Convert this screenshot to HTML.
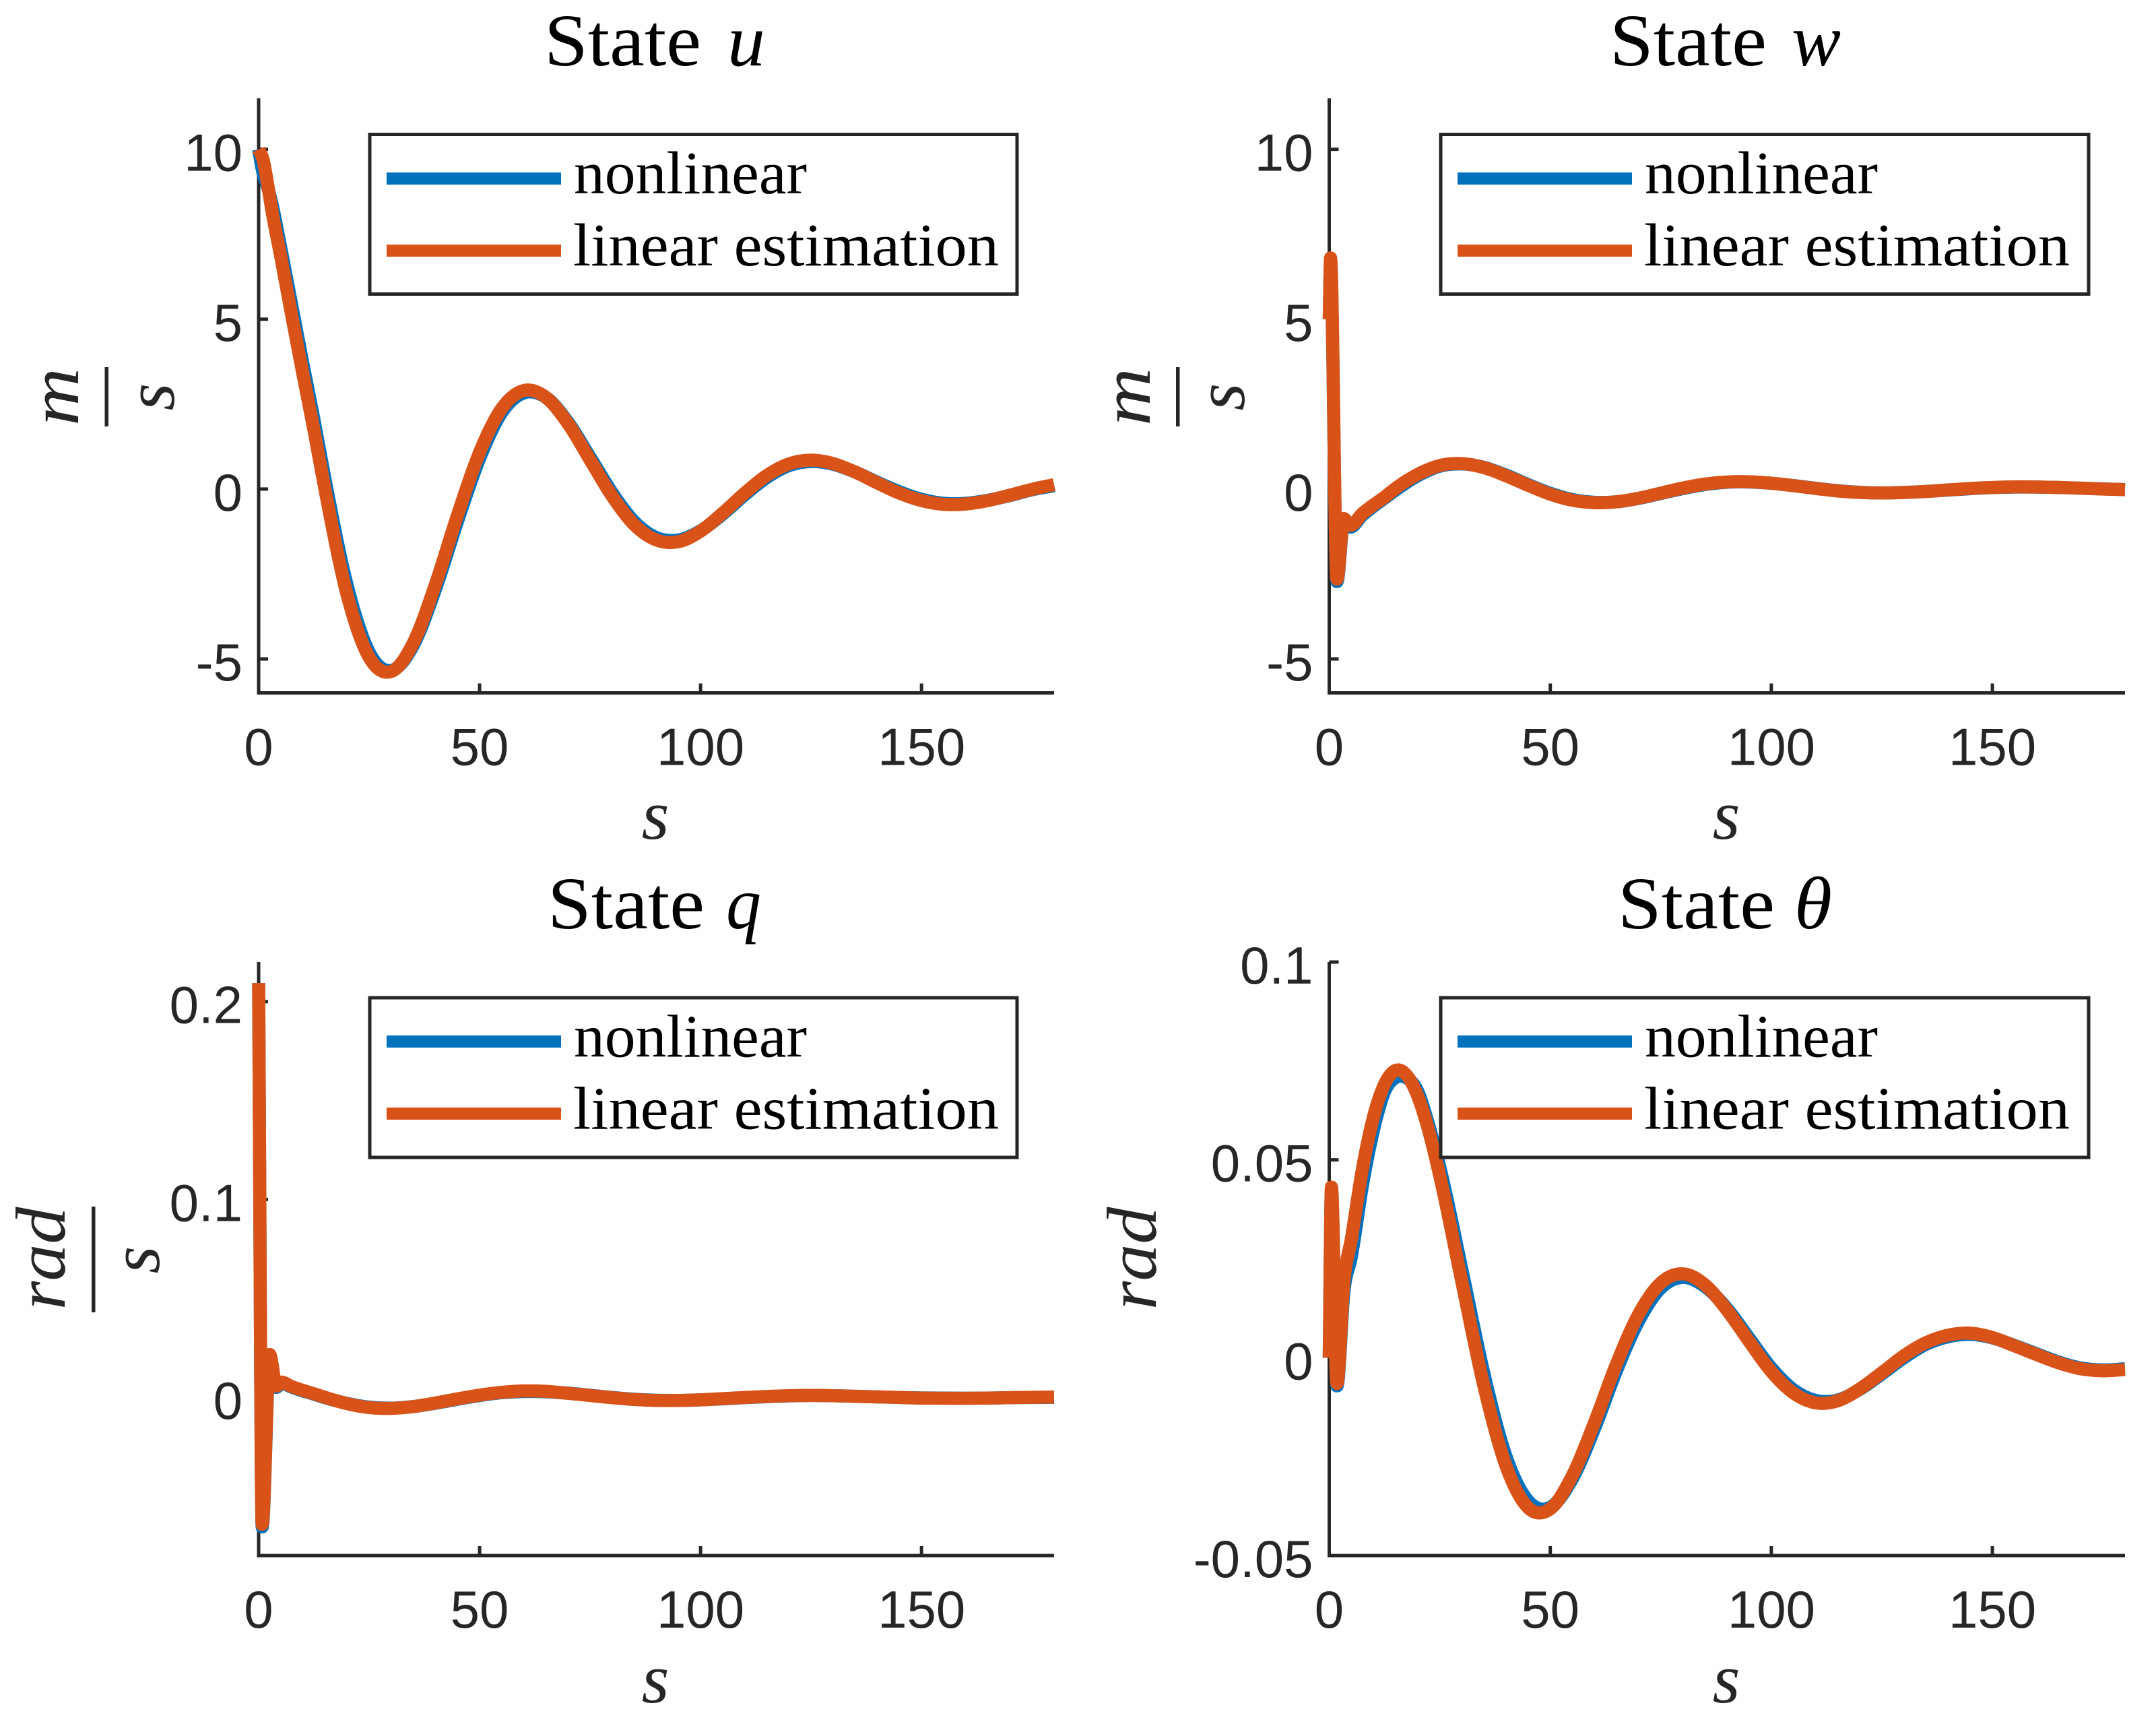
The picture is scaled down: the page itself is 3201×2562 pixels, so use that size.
<!DOCTYPE html>
<html lang="en">
<head>
<meta charset="utf-8">
<title>State responses: nonlinear vs linear estimation</title>
<style>
html,body{margin:0;padding:0;background:#fff;}
svg{display:block;}
.title{font-family:"Liberation Serif",serif;font-size:110px;fill:#000;}
.title-var{font-family:"Liberation Serif",serif;font-style:italic;font-size:110px;fill:#000;}
.legend-text{font-family:"Liberation Serif",serif;font-size:90px;fill:#000;}
.math{font-family:"Liberation Serif",serif;font-style:italic;font-size:105px;fill:#262626;}
.tick-label{font-family:"Liberation Sans",sans-serif;font-size:78px;fill:#262626;}
</style>
</head>
<body>
<svg id="figure" xmlns="http://www.w3.org/2000/svg" width="3201" height="2562" viewBox="0 0 3201 2562">
  <rect x="0" y="0" width="3201" height="2562" fill="#ffffff"/>

  <!-- Panel u -->
  <g>
    <g id="marks-u"></g>
    <g>
      <text class="title" x="808" y="97" textLength="233" lengthAdjust="spacingAndGlyphs">State</text>
      <text class="title-var" x="1080" y="97" textLength="56" lengthAdjust="spacingAndGlyphs">u</text>
    </g>
    <g>
      <text class="math" transform="translate(116,589) rotate(-90)" text-anchor="middle" textLength="86" lengthAdjust="spacingAndGlyphs">m</text>
      <rect x="155.5" y="545" width="5.5" height="88" fill="#262626"/>
      <text class="math" transform="translate(258,589) rotate(-90)" text-anchor="middle">s</text>
    </g>
    <text class="math" x="973" y="1245" text-anchor="middle">s</text>
    <g>
      <rect x="549" y="199.5" width="961" height="237" fill="#fff" stroke="#262626" stroke-width="5"/>
      <rect x="574" y="256" width="259" height="18" fill="#0072BD"/>
      <text class="legend-text" x="852" y="287" textLength="346" lengthAdjust="spacingAndGlyphs">nonlinear</text>
      <rect x="574" y="363" width="259" height="18" fill="#D95319"/>
      <text class="legend-text" x="851" y="394" textLength="632" lengthAdjust="spacingAndGlyphs">linear estimation</text>
    </g>
  </g>

  <!-- Panel w -->
  <g>
    <g id="marks-w"></g>
    <g>
      <text class="title" x="2390" y="97" textLength="233" lengthAdjust="spacingAndGlyphs">State</text>
      <text class="title-var" x="2660" y="97" textLength="73" lengthAdjust="spacingAndGlyphs">w</text>
    </g>
    <g>
      <text class="math" transform="translate(1707,589) rotate(-90)" text-anchor="middle" textLength="86" lengthAdjust="spacingAndGlyphs">m</text>
      <rect x="1746" y="545" width="5.5" height="88" fill="#262626"/>
      <text class="math" transform="translate(1847,589) rotate(-90)" text-anchor="middle">s</text>
    </g>
    <text class="math" x="2563" y="1245" text-anchor="middle">s</text>
    <g>
      <rect x="2139" y="199.5" width="962" height="237" fill="#fff" stroke="#262626" stroke-width="5"/>
      <rect x="2164" y="256" width="259" height="18" fill="#0072BD"/>
      <text class="legend-text" x="2442" y="287" textLength="346" lengthAdjust="spacingAndGlyphs">nonlinear</text>
      <rect x="2164" y="363" width="259" height="18" fill="#D95319"/>
      <text class="legend-text" x="2441" y="394" textLength="632" lengthAdjust="spacingAndGlyphs">linear estimation</text>
    </g>
  </g>

  <!-- Panel q -->
  <g>
    <g id="marks-q"></g>
    <g>
      <text class="title" x="813" y="1378" textLength="233" lengthAdjust="spacingAndGlyphs">State</text>
      <text class="title-var" x="1078" y="1378" textLength="52" lengthAdjust="spacingAndGlyphs">q</text>
    </g>
    <g>
      <text class="math" transform="translate(96,1868) rotate(-90)" text-anchor="middle" textLength="153" lengthAdjust="spacingAndGlyphs">rad</text>
      <rect x="136" y="1791" width="5.5" height="157" fill="#262626"/>
      <text class="math" transform="translate(236,1870) rotate(-90)" text-anchor="middle">s</text>
    </g>
    <text class="math" x="973" y="2527" text-anchor="middle">s</text>
    <g>
      <rect x="549" y="1481" width="961" height="237" fill="#fff" stroke="#262626" stroke-width="5"/>
      <rect x="574" y="1537" width="259" height="18" fill="#0072BD"/>
      <text class="legend-text" x="852" y="1568.5" textLength="346" lengthAdjust="spacingAndGlyphs">nonlinear</text>
      <rect x="574" y="1644" width="259" height="18" fill="#D95319"/>
      <text class="legend-text" x="851" y="1675.5" textLength="632" lengthAdjust="spacingAndGlyphs">linear estimation</text>
    </g>
  </g>

  <!-- Panel theta -->
  <g>
    <g id="marks-theta"></g>
    <g>
      <text class="title" x="2402" y="1378" textLength="233" lengthAdjust="spacingAndGlyphs">State</text>
      <text class="title-var" x="2664" y="1378" textLength="56" lengthAdjust="spacingAndGlyphs">θ</text>
    </g>
    <text class="math" transform="translate(1716,1868) rotate(-90)" text-anchor="middle" textLength="153" lengthAdjust="spacingAndGlyphs">rad</text>
    <text class="math" x="2563" y="2527" text-anchor="middle">s</text>
    <g>
      <rect x="2139" y="1481" width="962" height="237" fill="#fff" stroke="#262626" stroke-width="5"/>
      <rect x="2164" y="1537" width="259" height="18" fill="#0072BD"/>
      <text class="legend-text" x="2442" y="1568.5" textLength="346" lengthAdjust="spacingAndGlyphs">nonlinear</text>
      <rect x="2164" y="1644" width="259" height="18" fill="#D95319"/>
      <text class="legend-text" x="2441" y="1675.5" textLength="632" lengthAdjust="spacingAndGlyphs">linear estimation</text>
    </g>
  </g>
</svg>

<script>
// Shared x ticks (seconds)
var xTickValues = [0, 50, 100, 150];

// State u
var uTime = [0,1,2,3,5,7.5,10,12.5,15,20,25,30,35,40,45,50,55,60,65,70,75,80,85,90,95,100,105,110,115,120,125,130,135,140,145,150,155,160,165,170,175,180];
var uNonlinear = [10,9.3,8.9,8.4,7.1,5.4,3.7,2.05,0.3,-2.82,-4.8,-5.34,-4.6,-2.95,-0.95,0.9,2.25,2.83,2.7,1.97,0.94,-0.11,-0.96,-1.43,-1.5,-1.23,-0.74,-0.17,0.34,0.69,0.81,0.73,0.5,0.2,-0.08,-0.3,-0.42,-0.42,-0.33,-0.19,-0.02,0.1];
var uLinear = [10,9.7,9,8.2,6.85,5.1,3.4,1.75,0,-3.1,-4.95,-5.37,-4.53,-2.81,-0.77,1.08,2.37,2.9,2.7,1.93,0.86,-0.21,-1.05,-1.5,-1.55,-1.24,-0.71,-0.12,0.4,0.74,0.85,0.75,0.5,0.18,-0.12,-0.34,-0.45,-0.44,-0.34,-0.18,-0.01,0.13];
var uYTicks = [-5, 0, 5, 10];
var uYRange = [-6, 11.5];

// State w
var wTime = [0,0.3,1.75,3.3,4.8,7.5,10,12.5,15,20,25,30,35,40,45,50,55,60,65,70,75,80,85,90,95,100,105,110,115,120,125,130,135,140,145,150,155,160,165,170,175,180];
var wNonlinear = [5,6.6,-2.72,-0.95,-1.12,-0.77,-0.51,-0.27,-0.03,0.39,0.67,0.74,0.64,0.41,0.13,-0.125,-0.31,-0.39,-0.375,-0.275,-0.13,0.015,0.133,0.2,0.208,0.171,0.103,0.024,-0.047,-0.096,-0.113,-0.1,-0.07,-0.028,0.011,0.042,0.058,0.058,0.046,0.026,0.003,-0.014];
var wLinear = [5,6.8,-2.65,-0.87,-1.07,-0.72,-0.47,-0.24,0.02,0.43,0.69,0.75,0.63,0.39,0.11,-0.15,-0.33,-0.4,-0.375,-0.27,-0.12,0.03,0.146,0.208,0.215,0.172,0.099,0.017,-0.056,-0.1,-0.115,-0.1,-0.07,-0.025,0.017,0.047,0.063,0.061,0.047,0.025,0.001,-0.018];
var wYTicks = [-5, 0, 5, 10];
var wYRange = [-6, 11.5];

// State q
var qTime = [0,0.8,2.5,4,5.1,7.5,10,12.5,15,20,25,30,35,40,45,50,55,60,65,70,75,80,85,90,95,100,105,110,115,120,125,130,135,140,145,150,155,160,165,170,175,180];
var qNonlinear = [0.2094,-0.0655,0.021,0.005,0.0072,0.0051,0.0032,0.0016,-0.0002,-0.0031,-0.005,-0.0055,-0.0047,-0.003,-0.001,0.0009,0.0023,0.0029,0.0028,0.0021,0.001,-0.0001,-0.001,-0.0015,-0.0016,-0.0013,-0.0008,-0.0002,0.0003,0.0007,0.0009,0.0008,0.0005,0.0002,-0.0001,-0.0003,-0.0004,-0.0005,-0.0004,-0.0002,-0.0001,0];
var qLinear = [0.2094,-0.0642,0.0216,0.0056,0.0077,0.0054,0.0035,0.0018,0,-0.0032,-0.0052,-0.0056,-0.0047,-0.0029,-0.0008,0.0011,0.0025,0.0032,0.003,0.002,0.0009,-0.0002,-0.0011,-0.0016,-0.0016,-0.0013,-0.0007,-0.0001,0.0004,0.0008,0.0009,0.0008,0.0005,0.0002,-0.0001,-0.0004,-0.0005,-0.0005,-0.0004,-0.0002,0,0.0001];
var qYTicks = [0, 0.1, 0.2];
var qYRange = [-0.08, 0.22];

// State theta
var thetaTime = [0,0.5,1.75,3.3,5,7.5,10,12.5,15,17.5,20,22.5,25,30,35,40,45,50,55,60,65,70,75,80,85,90,95,100,105,110,115,120,125,130,135,140,145,150,155,160,165,170,175,180];
var thetaNonlinear = [0,0.0425,-0.0071,0.0165,0.0255,0.0435,0.0575,0.0672,0.0708,0.0707,0.0674,0.0588,0.0482,0.0223,-0.0041,-0.025,-0.0362,-0.0378,-0.0306,-0.0179,-0.0032,0.0093,0.0176,0.0203,0.018,0.0124,0.0049,-0.0026,-0.0081,-0.0108,-0.0107,-0.008,-0.0041,0,0.0034,0.0053,0.0059,0.005,0.0031,0.001,-0.0011,-0.0026,-0.0031,-0.0028];
var thetaLinear = [0,0.0431,-0.0065,0.019,0.03,0.0476,0.0608,0.0691,0.0726,0.0714,0.0662,0.0574,0.046,0.0192,-0.0072,-0.0274,-0.0379,-0.0382,-0.0298,-0.0164,-0.0015,0.011,0.0189,0.0212,0.0184,0.012,0.0041,-0.0035,-0.0089,-0.0114,-0.0109,-0.0079,-0.0038,0.0005,0.0038,0.0057,0.0062,0.0051,0.003,0.0008,-0.0013,-0.0028,-0.0033,-0.003];
var thetaYTicks = [-0.05, 0, 0.05, 0.1];
var thetaYRange = [-0.05, 0.1];

var SVG_NS = 'http://www.w3.org/2000/svg';
var INK = '#262626';

function svgEl(tag, parent) {
  var el = document.createElementNS(SVG_NS, tag);
  parent.appendChild(el);
  return el;
}

// Catmull-Rom through widely spaced samples; monotone limiter through the
// closely spaced samples of the initial transient so spikes do not overshoot.
function smoothPath(xs, ys) {
  var n = xs.length, s = [], h = [], m = [], i;
  for (i = 0; i < n - 1; i++) {
    h.push(Math.max(xs[i + 1] - xs[i], 1e-6));
    s.push((ys[i + 1] - ys[i]) / h[i]);
  }
  m[0] = s[0];
  m[n - 1] = s[n - 2];
  var spikeSpacing = (xs[n - 1] - xs[0]) / 180 * 2.4;
  for (i = 1; i < n - 1; i++) {
    var p = (s[i - 1] * h[i] + s[i] * h[i - 1]) / (h[i - 1] + h[i]);
    if (h[i - 1] < spikeSpacing || h[i] < spikeSpacing) {
      m[i] = s[i - 1] * s[i] <= 0 ? 0 :
        (s[i] > 0 ? 1 : -1) * Math.min(2 * Math.abs(s[i - 1]), 2 * Math.abs(s[i]), Math.abs(p));
    } else {
      m[i] = p;
    }
  }
  var d = 'M' + xs[0].toFixed(2) + ' ' + ys[0].toFixed(2);
  for (i = 0; i < n - 1; i++) {
    var t = h[i] / 3;
    d += 'C' + (xs[i] + t).toFixed(2) + ' ' + (ys[i] + m[i] * t).toFixed(2) + ' ' +
         (xs[i + 1] - t).toFixed(2) + ' ' + (ys[i + 1] - m[i + 1] * t).toFixed(2) + ' ' +
         xs[i + 1].toFixed(2) + ' ' + ys[i + 1].toFixed(2);
  }
  return d;
}

function drawPanel(id, box, time, nonlinear, linear, yTicks, yRange) {
  var root = document.getElementById('marks-' + id);
  function sx(v) { return box.left + (v / 180) * (box.right - box.left); }
  function sy(v) { return box.bottom - (v - yRange[0]) / (yRange[1] - yRange[0]) * (box.bottom - box.top); }

  var yAxis = svgEl('line', root);
  
  
  yAxis.setAttribute('x1', box.left);
  yAxis.setAttribute('x2', box.left);
  yAxis.setAttribute('y1', box.top);
  yAxis.setAttribute('y2', box.bottom + 2.5);
  yAxis.setAttribute('stroke', INK);
  yAxis.setAttribute('stroke-width', 5);

  var xAxis = svgEl('line', root);
  
  
  xAxis.setAttribute('x1', box.left);
  xAxis.setAttribute('x2', box.right);
  xAxis.setAttribute('y1', box.bottom);
  xAxis.setAttribute('y2', box.bottom);
  xAxis.setAttribute('stroke', INK);
  xAxis.setAttribute('stroke-width', 5);

  xTickValues.forEach(function (v) {
    var t = svgEl('line', root);
    
    
    t.setAttribute('x1', sx(v));
    t.setAttribute('x2', sx(v));
    t.setAttribute('y1', box.bottom);
    t.setAttribute('y2', box.bottom - 14);
    t.setAttribute('stroke', INK);
    t.setAttribute('stroke-width', 5);
    var l = svgEl('text', root);
    
    
    l.setAttribute('class', 'tick-label');
    l.setAttribute('x', sx(v));
    l.setAttribute('y', box.bottom + 107);
    l.setAttribute('text-anchor', 'middle');
    l.textContent = String(v);
  });

  yTicks.forEach(function (v) {
    var t = svgEl('line', root);
    
    
    t.setAttribute('x1', box.left);
    t.setAttribute('x2', box.left + 14);
    t.setAttribute('y1', sy(v));
    t.setAttribute('y2', sy(v));
    t.setAttribute('stroke', INK);
    t.setAttribute('stroke-width', 5);
    var l = svgEl('text', root);
    
    
    l.setAttribute('class', 'tick-label');
    l.setAttribute('x', box.left - 24);
    l.setAttribute('y', sy(v) + 32);
    l.setAttribute('text-anchor', 'end');
    l.textContent = String(v);
  });

  var xs = time.map(sx);

  var blue = svgEl('path', root);
  
  
  blue.setAttribute('d', smoothPath(xs, nonlinear.map(sy)));
  blue.setAttribute('fill', 'none');
  blue.setAttribute('stroke', '#0072BD');
  blue.setAttribute('stroke-width', 19.5);
  blue.setAttribute('stroke-linejoin', 'round');

  var orange = svgEl('path', root);
  
  
  orange.setAttribute('d', smoothPath(xs, linear.map(sy)));
  orange.setAttribute('fill', 'none');
  orange.setAttribute('stroke', '#D95319');
  orange.setAttribute('stroke-width', 19.5);
  orange.setAttribute('stroke-linejoin', 'round');
}

drawPanel('u', {left: 384, right: 1565, top: 146, bottom: 1028.5}, uTime, uNonlinear, uLinear, uYTicks, uYRange);
drawPanel('w', {left: 1973.5, right: 3155, top: 146, bottom: 1028.5}, wTime, wNonlinear, wLinear, wYTicks, wYRange);
drawPanel('q', {left: 384, right: 1565, top: 1428, bottom: 2309}, qTime, qNonlinear, qLinear, qYTicks, qYRange);
drawPanel('theta', {left: 1973.5, right: 3155, top: 1428, bottom: 2309}, thetaTime, thetaNonlinear, thetaLinear, thetaYTicks, thetaYRange);
</script>
</body>
</html>
